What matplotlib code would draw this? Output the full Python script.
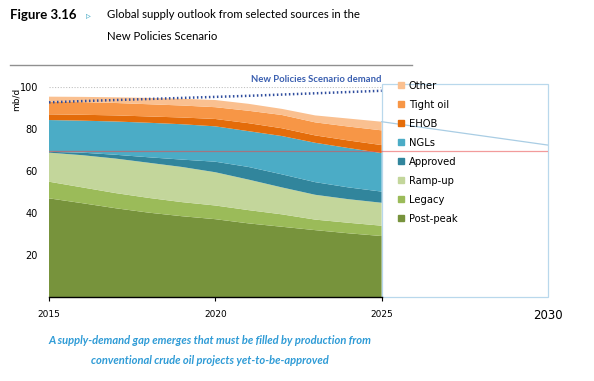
import numpy as np
import matplotlib
matplotlib.use("Agg")
import matplotlib.pyplot as plt
from matplotlib.patches import Patch, Rectangle

years = [2015, 2016, 2017, 2018, 2019, 2020, 2021, 2022, 2023, 2024, 2025]
labels = ["Post-peak", "Legacy", "Ramp-up", "Approved", "NGLs", "EHOB", "Tight oil", "Other"]
post_peak = [47.1, 44.8, 42.4, 40.3, 38.6, 37.2, 35.2, 33.6, 32.0, 30.5, 29.2]
legacy = [7.9, 7.5, 7.2, 7.0, 6.7, 6.5, 6.3, 5.9, 5.0, 5.0, 4.9]
ramp_up = [13.8, 15.3, 16.4, 16.7, 16.7, 15.8, 14.5, 12.8, 11.8, 11.2, 10.9]
approved = [0.4, 1.2, 1.8, 2.6, 3.5, 5.0, 6.0, 6.2, 6.0, 5.6, 5.3]
ngls = [15.1, 15.2, 15.8, 16.4, 16.8, 16.8, 17.0, 18.2, 18.7, 18.7, 18.3]
ehob = [2.7, 2.8, 2.9, 3.0, 3.2, 3.5, 3.8, 3.7, 3.5, 3.6, 3.8]
tight_oil = [6.0, 6.0, 5.9, 5.8, 5.7, 5.6, 5.9, 6.3, 6.2, 6.6, 7.0]
other = [2.4, 2.5, 2.7, 3.0, 3.2, 3.4, 3.3, 2.9, 3.3, 3.8, 4.1]
demand = [92.7, 93.3, 93.8, 94.3, 94.8, 95.3, 95.8, 96.4, 97.0, 97.6, 98.2]
gap_level = 69.5
outlook_years = [2025, 2030]
outlook_vals = [83.5, 72.4]

colors = ["#77933c", "#9bbb59", "#c3d69b", "#31859c", "#4bacc6", "#e46c0a", "#f79646", "#fac090"]

fig = plt.figure(figsize=(5.94, 3.81), dpi=100, facecolor="white")
ax = fig.add_axes([0.0825, 0.2192, 0.840, 0.5525])

series = [post_peak, legacy, ramp_up, approved, ngls, ehob, tight_oil, other]
ax.stackplot(years, *series, colors=colors, linewidth=0)

ax.plot([2015, 2025], [100, 100], color="#c0c0c0", lw=0.8, ls=(0, (1, 1.5)))
ax.plot(years, demand, color="#2f4d9e", lw=1.8, ls=(0, (0.6, 1.0)), clip_on=False)
ax.text(2025, 101.5, "New Policies Scenario demand", color="#3a5fb0", fontsize=6.8,
        fontweight="bold", family="Lato", ha="right", va="bottom", clip_on=False)

ax.add_patch(Rectangle((2025, 0.4), 5, 101, fill=False, ec="#b9d8ec", lw=0.9, clip_on=False))
ax.plot(outlook_years, outlook_vals, color="#a9cde4", lw=0.9)
ax.axhline(gap_level, color="#e84a4a", lw=0.9, alpha=0.55)

ax.set_xlim(2015, 2030)
ax.set_ylim(0, 100)
for s in ["top", "right", "left"]:
    ax.spines[s].set_visible(False)
ax.spines["bottom"].set_bounds(2015, 2025)
ax.spines["bottom"].set_linewidth(1.0)
ax.set_xticks([2015, 2020, 2025])
ax.set_xticklabels(["2015", "2020", "2025"], fontsize=6.5)
ax.tick_params(axis="x", length=3, width=0.8, pad=6)
ax.text(2030, -5.3, "2030", fontsize=8.5, ha="center", va="top")
ax.set_yticks([20, 40, 60, 80, 100])
ax.set_yticklabels(["20", "40", "60", "80", "100"], fontsize=7)
ax.tick_params(axis="y", length=0, pad=8)
ax.text(-0.065, 0.94, "mb/d", transform=ax.transAxes, rotation=90, fontsize=6.5,
        ha="center", va="center")

handles = [Patch(color=c) for c in colors[::-1]]
ax.legend(handles, labels[::-1], loc="upper left", bbox_to_anchor=(0.699, 1.03),
          frameon=False, fontsize=7.2, handlelength=0.6, handleheight=0.6,
          handletextpad=0.5, labelspacing=0.9, borderpad=0, borderaxespad=0)

fig.text(10 / 594, 1 - 15 / 381, "Figure 3.16", fontsize=9.5, fontweight="bold",
         family="Lato", va="center")
fig.text(86 / 594, 1 - 15 / 381, "\u25b9", fontsize=7, color="#4bacc6", va="center")
fig.text(107 / 594, 1 - 15 / 381, "Global supply outlook from selected sources in the",
         fontsize=8.2, family="Lato", va="center")
fig.text(107 / 594, 1 - 37 / 381, "New Policies Scenario", fontsize=8.2, family="Lato", va="center")
fig.add_artist(plt.Line2D([10 / 594, 412 / 594], [1 - 65 / 381, 1 - 65 / 381],
                          color="#909090", lw=1.0))

fig.text(210 / 594, 1 - 341 / 381,
         "A supply-demand gap emerges that must be filled by production from",
         fontsize=8, style="italic", fontweight="bold", family="Lato",
         color="#2e9bd6", ha="center", va="center")
fig.text(210 / 594, 1 - 361 / 381, "conventional crude oil projects yet-to-be-approved",
         fontsize=8, style="italic", fontweight="bold", family="Lato",
         color="#2e9bd6", ha="center", va="center")

fig.savefig("out.png", dpi=100)
